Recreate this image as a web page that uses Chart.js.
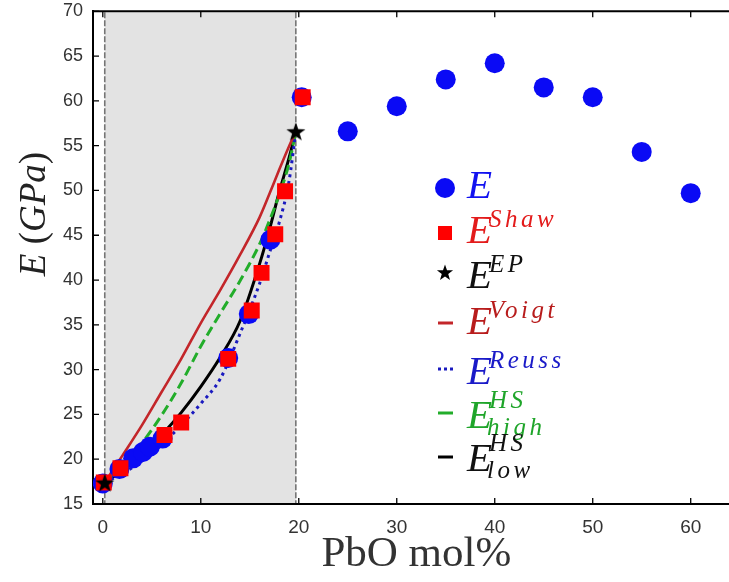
<!DOCTYPE html>
<html><head><meta charset="utf-8">
<script src="https://cdn.jsdelivr.net/npm/chart.js@4.4.0/dist/chart.umd.min.js"></script>
<style>
html,body{margin:0;padding:0;background:#fff;overflow:hidden;width:729px;height:582px}
#wrap{position:relative;width:729px;height:582px;overflow:hidden}
#c{position:absolute;left:0;top:0}
#ytitle{position:absolute;left:32px;top:214px;transform:translate(-50%,-50%) rotate(-90deg);font-family:"Liberation Serif",serif;font-size:37px;color:#222;white-space:nowrap;line-height:1}
.it{font-style:italic}
.lt{position:absolute;font-family:"Liberation Serif",serif;font-style:italic;white-space:nowrap;line-height:1}
#legsvg{position:absolute;left:0;top:0}
</style></head>
<body><div id="wrap"><canvas id="c" width="751" height="582"></canvas>
<div id="ytitle"><span class="it">E</span> (<span class="it">GPa</span>)</div>
<svg id="legsvg" width="729" height="582"></svg>
<div id="legend"></div></div>
<script>
// ---- data ----
const xTicks = [0, 10, 20, 30, 40, 50, 60];
const yTicks = [15, 20, 25, 30, 35, 40, 45, 50, 55, 60, 65, 70];
const glassRegion = [0.2, 19.7];
const expX = [0, 1.7, 3.1, 4.1, 4.8, 6.1, 12.8, 14.9, 17.1, 20.3, 25, 30, 35, 40, 45, 50, 55, 60];
const expE = [17.3, 18.9, 20.1, 20.8, 21.4, 22.3, 31.3, 36.2, 44.5, 60.4, 56.6, 59.4, 62.4, 64.2, 61.5, 60.4, 54.3, 49.7];
const shawX = [0.1, 1.8, 6.3, 8.0, 12.8, 15.2, 16.2, 17.6, 18.6, 20.4];
const shawE = [17.4, 19.0, 22.7, 24.1, 31.2, 36.6, 40.8, 45.1, 49.9, 60.4];
const epX = [0.2, 19.7];
const epE = [17.4, 56.6];
const modelX = [0.2, 2, 4, 6, 8, 10, 12, 14, 16, 17, 18, 19, 19.7];
const voigtE = [17.4, 20.4, 23.8, 27.5, 31.2, 35.2, 38.9, 42.8, 47.0, 49.6, 52.3, 54.9, 56.6];
const reussE = [17.4, 18.4, 19.8, 21.6, 23.8, 26.2, 29.0, 34.0, 39.6, 43.0, 46.4, 51.0, 56.6];
const hsHighE = [17.4, 19.3, 21.8, 24.9, 28.5, 32.6, 36.3, 39.9, 44.0, 46.6, 49.5, 53.0, 56.6];
const hsLowE = [17.4, 18.7, 20.5, 22.7, 25.2, 28.1, 31.4, 35.4, 41.8, 45.6, 49.8, 53.6, 56.6];
const xTitle = 'PbO mol%';

const pts = (xs, ys) => xs.map((x, i) => ({x, y: ys[i]}));

function starPath(cx, cy, R) {
  let d = '';
  for (let i = 0; i < 10; i++) {
    const r = i % 2 ? R * 0.4 : R;
    const a = -Math.PI / 2 + i * Math.PI / 5;
    d += (i ? 'L' : 'M') + (cx + r * Math.cos(a)).toFixed(2) + ' ' + (cy + r * Math.sin(a)).toFixed(2);
  }
  return d + 'Z';
}
function makeStar(R) {
  const c = document.createElement('canvas');
  const s = Math.ceil(R * 2 + 2);
  c.width = c.height = s;
  const g = c.getContext('2d');
  g.fillStyle = '#000';
  g.fill(new Path2D(starPath(s / 2, s / 2 + R * 0.1, R)));
  return c;
}

const regionPlugin = {
  id: 'region',
  beforeDatasetsDraw(chart) {
    const {ctx, chartArea: a, scales: {x}} = chart;
    const x0 = x.getPixelForValue(glassRegion[0]), x1 = x.getPixelForValue(glassRegion[1]);
    ctx.save();
    ctx.fillStyle = '#e3e3e3';
    ctx.fillRect(x0, a.top + 1, x1 - x0, a.bottom - a.top - 2);
    ctx.strokeStyle = '#757575';
    ctx.lineWidth = 1.6;
    ctx.setLineDash([6, 2]);
    for (const p of [x0, x1]) {
      ctx.beginPath(); ctx.moveTo(p, a.top + 1); ctx.lineTo(p, a.bottom - 1); ctx.stroke();
    }
    ctx.restore();
  }
};
const framePlugin = {
  id: 'frame',
  afterDraw(chart) {
    const {ctx, chartArea: a, scales: {x, y}} = chart;
    ctx.save();
    ctx.strokeStyle = '#000';
    ctx.lineWidth = 1.3;
    ctx.beginPath();
    x.ticks.forEach(t => {
      const p = x.getPixelForValue(t.value);
      ctx.moveTo(p, a.bottom); ctx.lineTo(p, a.bottom - 6);
      ctx.moveTo(p, a.top); ctx.lineTo(p, a.top + 6);
    });
    y.ticks.forEach(t => {
      const p = y.getPixelForValue(t.value);
      ctx.moveTo(a.left, p); ctx.lineTo(a.left + 6, p);
    });
    ctx.stroke();
    ctx.lineWidth = 2;
    ctx.beginPath(); ctx.moveTo(a.left - 1, a.top); ctx.lineTo(chart.width, a.top); ctx.stroke();
    ctx.beginPath(); ctx.moveTo(a.left - 1, a.bottom); ctx.lineTo(chart.width, a.bottom); ctx.stroke();
    ctx.restore();
  }
};

const lineDs = (label, ys, color, width, dash, order) => ({
  label, data: pts(modelX, ys), showLine: true, borderColor: color, borderWidth: width,
  borderDash: dash, pointRadius: 0, cubicInterpolationMode: 'monotone', fill: false, order
});

new Chart(document.getElementById('c'), {
  type: 'scatter',
  data: {
    datasets: [
      lineDs('E Voigt', voigtE, '#c3262a', 2.6, [], 10),
      lineDs('E Reuss', reussE, '#1a1abf', 3, [3, 4], 10),
      lineDs('E HS high', hsHighE, '#22ad2a', 3, [10, 5], 10),
      lineDs('E HS low', hsLowE, '#000000', 3, [], 10),
      {label: 'E', data: pts(expX, expE), pointStyle: 'circle', pointRadius: 10, backgroundColor: '#0a0af5', borderWidth: 0, showLine: false, order: 3},
      {label: 'E Shaw', data: pts(shawX, shawE), pointStyle: 'rect', pointRadius: 11.3, backgroundColor: '#ff0000', borderWidth: 0, showLine: false, order: 2},
      {label: 'E EP', data: pts(epX, epE), pointStyle: makeStar(10), pointRadius: 10, showLine: false, order: 1}
    ]
  },
  options: {
    responsive: false, animation: false, events: [],
    devicePixelRatio: 1,
    layout: {padding: {top: 9, left: 0, right: 0, bottom: 0}},
    plugins: {legend: {display: false}, tooltip: {enabled: false}},
    scales: {
      x: {
        type: 'linear', min: -1, max: 65,
        afterBuildTicks: s => { s.ticks = xTicks.map(v => ({value: v})); },
        afterFit: s => { s.height = 78; s.paddingLeft = 0; s.paddingRight = 0; },
        grid: {drawOnChartArea: false, drawTicks: false},
        border: {display: true, color: '#000', width: 2},
        ticks: {padding: 14, color: '#333', autoSkip: false, maxRotation: 0, font: {family: 'Liberation Sans', size: 19, lineHeight: 1}},
        title: {display: true, text: xTitle, color: '#333', font: {family: 'Liberation Serif', size: 43, lineHeight: 1.2}, padding: {top: 0, bottom: 1}}
      },
      y: {
        type: 'linear', min: 15, max: 70,
        afterBuildTicks: s => { s.ticks = yTicks.map(v => ({value: v})); },
        afterFit: s => { s.width = 93; s.paddingTop = 0; s.paddingBottom = 0; },
        grid: {drawOnChartArea: false, drawTicks: false},
        border: {display: true, color: '#000', width: 2},
        ticks: {padding: 10, color: '#333', font: {family: 'Liberation Sans', size: 18, lineHeight: 1}}
      }
    }
  },
  plugins: [regionPlugin, framePlugin]
});

// ---- legend (math-style labels) ----
const legendItems = [
  {sup: '', sub: '', color: '#1212f0', marker: 'circle', mcolor: '#0a0af5', base: 198, my: 188},
  {sup: 'Shaw', sub: '', color: '#e31b1b', marker: 'square', mcolor: '#ff0000', base: 243, my: 233},
  {sup: 'EP', sub: '', color: '#111', marker: 'star', mcolor: '#000', base: 288, my: 272},
  {sup: 'Voigt', sub: '', color: '#b81c1c', marker: 'line', mcolor: '#c3262a', base: 334, my: 323},
  {sup: 'Reuss', sub: '', color: '#1a1ac8', marker: 'dots', mcolor: '#1a1abf', base: 384, my: 369},
  {sup: 'HS', sub: 'high', color: '#1fa52a', marker: 'line', mcolor: '#22ad2a', base: 428, my: 413},
  {sup: 'HS', sub: 'low', color: '#111', marker: 'line', mcolor: '#000', base: 471, my: 457}
];
const svg = document.getElementById('legsvg');
const legend = document.getElementById('legend');
const NS = 'http://www.w3.org/2000/svg';
function addText(txt, left, base, size, color, spacing) {
  const d = document.createElement('div');
  d.className = 'lt';
  d.textContent = txt;
  d.style.left = left + 'px';
  d.style.top = (base - 0.8375 * size) + 'px';
  d.style.fontSize = size + 'px';
  d.style.color = color;
  if (spacing) d.style.letterSpacing = spacing + 'px';
  legend.appendChild(d);
}
legendItems.forEach(it => {
  const mx = 445;
  let el;
  if (it.marker === 'circle') {
    el = document.createElementNS(NS, 'circle');
    el.setAttribute('cx', mx); el.setAttribute('cy', it.my); el.setAttribute('r', 10);
    el.setAttribute('fill', it.mcolor);
  } else if (it.marker === 'square') {
    el = document.createElementNS(NS, 'rect');
    el.setAttribute('x', mx - 7); el.setAttribute('y', it.my - 7);
    el.setAttribute('width', 14); el.setAttribute('height', 14);
    el.setAttribute('fill', it.mcolor);
  } else if (it.marker === 'star') {
    el = document.createElementNS(NS, 'path');
    el.setAttribute('d', starPath(mx, it.my + 1, 8.5));
    el.setAttribute('fill', it.mcolor);
  } else {
    el = document.createElementNS(NS, 'line');
    el.setAttribute('x1', mx - 7); el.setAttribute('x2', mx + 8);
    el.setAttribute('y1', it.my); el.setAttribute('y2', it.my);
    el.setAttribute('stroke', it.mcolor); el.setAttribute('stroke-width', 3);
    if (it.marker === 'dots') el.setAttribute('stroke-dasharray', '3 3');
  }
  svg.appendChild(el);
  addText('E', 467, it.base, 41, it.color);
  if (it.sup) addText(it.sup, 489, it.base - (it.sub ? 20 : 16), 25, it.color, 3.5);
  if (it.sub) addText(it.sub, 487, it.base + 7, 25, it.color, 3.5);
});
</script>
</body></html>
